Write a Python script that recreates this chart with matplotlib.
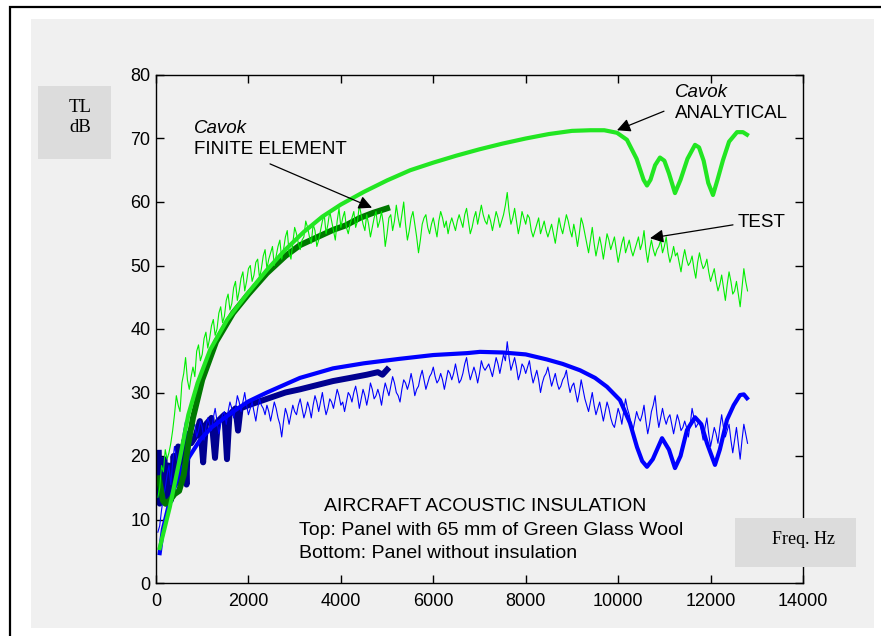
import numpy as np
import matplotlib
matplotlib.use('Agg')
import matplotlib.pyplot as plt
from matplotlib.patches import Rectangle

plt.rcParams['font.family'] = 'Liberation Sans'

# Cavok analytical, insulated panel (top)
ana_top_f = [80, 300, 500, 700, 900, 1170, 1536, 1970, 2400, 2800, 3200, 3600, 4000, 4500,
             5000, 5500, 6000, 6500, 7000, 7500, 8000, 8500, 9000, 9400, 9700, 9975, 10190,
             10400, 10550, 10624, 10700, 10800, 10905, 11000, 11100, 11230, 11350, 11500,
             11663, 11750, 11850, 11950, 12052, 12150, 12269, 12400, 12572, 12700, 12788]
ana_top_v = [5.5, 12.0, 19.0, 26.5, 31.5, 36.7, 41.4, 45.5, 49.3, 52.5, 55.3, 57.7, 59.6, 61.6,
             63.4, 65.0, 66.2, 67.3, 68.3, 69.2, 70.0, 70.7, 71.2, 71.3, 71.3, 70.9, 69.8,
             66.8, 63.5, 62.6, 63.5, 65.8, 67.0, 66.5, 64.5, 61.4, 63.5, 66.8,
             69.0, 68.6, 66.5, 63.0, 61.1, 63.5, 66.6, 69.5, 71.0, 71.0, 70.6]

# Cavok finite element, insulated panel
fe_top_f = [60, 100, 150, 200, 300, 400, 500, 600, 700, 800, 1000, 1300, 1666, 2000, 2400,
            2800, 3115, 3500, 3830, 4100, 4414, 4700, 5000]
fe_top_v = [16.5, 15.0, 13.0, 12.5, 13.0, 14.0, 14.5, 17.0, 22.0, 26.0, 32.0, 38.0, 42.5,
            45.5, 48.8, 51.5, 53.2, 54.5, 55.6, 56.3, 57.5, 58.3, 59.0]

# Cavok analytical, bare panel (bottom)
ana_bot_f = [80, 150, 300, 450, 584, 800, 950, 1200, 1670, 2000, 2400, 3115, 3830, 4500, 5270,
             6000, 6730, 7010, 7500, 8000, 8460, 8800, 9175, 9500, 9758, 10040, 10256, 10408,
             10520, 10624, 10750, 10950, 11100, 11230, 11350, 11490, 11663, 11800, 11923,
             12095, 12200, 12355, 12500, 12637, 12720, 12788]
ana_bot_v = [4.7, 8.5, 13.0, 16.0, 18.3, 20.8, 22.5, 24.5, 27.0, 28.6, 30.0, 32.3, 33.8, 34.6,
             35.3, 35.9, 36.2, 36.4, 36.3, 36.0, 35.2, 34.5, 33.5, 32.3, 30.9, 28.8, 25.2,
             21.4, 19.2, 18.3, 19.5, 22.8, 21.0, 18.1, 20.0, 24.1, 26.1, 25.0, 22.0,
             18.6, 21.0, 25.7, 28.0, 29.6, 29.7, 29.1]

# Cavok finite element, bare panel
fe_bot_f = [60, 80, 110, 140, 180, 220, 270, 320, 380, 430, 480, 520, 560, 620, 660, 690, 760,
            850, 950, 1020, 1080, 1200, 1277, 1340, 1480, 1536, 1590, 1720, 1775, 1830, 2000,
            2400, 2800, 3115, 3500, 3830, 4200, 4560, 4800, 4900, 5000]
fe_bot_v = [20.5, 12.5, 17.0, 14.0, 19.5, 12.5, 18.5, 13.0, 20.0, 16.0, 21.5, 15.5, 20.5,
            22.5, 15.5, 23.5, 22.0, 23.0, 25.5, 19.0, 25.0, 26.0, 19.7, 25.5, 26.5, 19.5,
            26.5, 27.5, 24.0, 27.5, 28.0, 29.0, 30.0, 30.5, 31.2, 31.8, 32.3, 32.8, 33.2,
            32.8, 33.6]

# measured spectra, 40 Hz steps from 40 to 12800 Hz
test_f = np.arange(40, 12801, 40)
test_top = [13.5, 15.0, 18.5, 17.5, 21.0, 19.5, 20.5, 22.0, 24.0, 26.5, 29.5, 28.0, 27.0, 31.5, 33.0, 35.5, 32.0, 30.5, 32.5, 34.0,
            32.5, 36.5, 37.5, 35.0, 36.0, 38.5, 39.5, 37.0, 38.5, 40.5, 41.5, 39.0, 40.0, 42.5, 43.5, 41.0, 42.0, 44.5, 45.5, 43.0,
            44.0, 46.5, 47.5, 44.5, 46.0, 48.0, 49.0, 46.0, 47.5, 49.5, 50.0, 47.5, 48.5, 50.5, 51.0, 48.0, 49.5, 51.5, 52.5, 49.5,
            51.0, 52.0, 53.0, 50.0, 51.5, 53.0, 54.0, 51.0, 52.5, 54.5, 55.5, 52.0, 51.0, 53.5, 56.0, 55.0, 53.5, 52.5, 54.0, 54.5,
            57.0, 56.0, 54.5, 53.5, 56.5, 55.5, 53.0, 54.0, 55.5, 57.0, 58.0, 55.0, 56.5, 58.5, 57.0, 55.5, 54.0, 57.0, 59.0, 56.0,
            57.5, 58.5, 56.0, 55.0, 56.5, 57.5, 58.5, 56.0, 57.0, 59.5, 58.0, 56.5, 55.5, 58.0, 56.5, 54.5, 56.0, 57.5, 58.5, 56.0,
            57.0, 58.5, 56.5, 53.0, 55.0, 57.5, 58.0, 55.5, 57.0, 59.5, 57.5, 56.0, 58.0, 60.0, 56.5, 54.0, 55.5, 57.5, 58.5, 56.5,
            54.5, 52.0, 54.0, 56.5, 57.5, 58.0, 56.0, 55.0, 56.5, 57.5, 56.0, 54.5, 57.0, 58.5, 57.5, 56.0, 57.0, 55.0, 56.5, 57.5,
            56.5, 55.5, 57.0, 58.0, 57.0, 56.0, 58.0, 59.0, 57.0, 55.0, 56.0, 57.5, 58.5, 56.5, 58.0, 59.5, 58.0, 57.0, 56.5, 58.0,
            57.0, 55.5, 57.0, 58.5, 57.5, 56.0, 57.0, 58.0, 59.5, 61.5, 58.5, 56.5, 57.5, 59.0, 57.0, 55.0, 56.5, 58.5, 57.5, 56.5,
            58.0, 57.5, 55.5, 54.5, 55.5, 56.5, 57.5, 55.0, 56.0, 57.0, 55.5, 54.5, 55.5, 56.5, 55.0, 53.5, 55.5, 57.5, 56.0, 55.0,
            56.5, 58.0, 57.0, 55.5, 54.5, 56.5, 55.0, 53.0, 55.0, 57.5, 56.5, 55.0, 53.5, 52.0, 54.0, 56.0, 53.5, 51.5, 53.0, 54.5,
            53.0, 51.0, 53.0, 55.0, 54.0, 52.5, 53.5, 54.5, 52.5, 50.5, 52.0, 53.5, 54.5, 52.0, 53.0, 54.0, 52.5, 51.5, 52.5, 53.5,
            54.5, 52.5, 53.5, 55.5, 52.5, 50.5, 52.5, 54.0, 52.5, 51.5, 52.5, 53.0, 54.0, 52.0, 53.0, 54.5, 52.0, 50.5, 51.5, 53.0,
            51.5, 52.0, 50.5, 49.0, 51.0, 52.5, 51.0, 50.0, 50.5, 51.5, 49.5, 48.0, 50.5, 52.0, 50.5, 49.5, 50.0, 51.0, 49.0, 47.5,
            48.5, 49.5, 47.5, 46.0, 47.0, 48.5, 46.5, 44.5, 47.0, 49.0, 47.5, 45.5, 46.0, 47.5, 45.5, 43.5, 46.5, 49.5, 47.5, 46.0]
test_bot = [8.0, 9.0, 11.5, 13.5, 15.0, 17.0, 18.5, 15.5, 19.0, 21.5, 20.0, 18.5, 20.5, 22.0, 24.0, 25.5, 23.0, 21.0, 22.5, 24.5,
            25.0, 23.0, 24.0, 25.5, 24.5, 22.5, 24.5, 26.0, 25.0, 24.0, 26.0, 27.5, 25.5, 23.5, 25.0, 26.5, 27.0, 25.0, 27.0, 28.5,
            27.5, 26.0, 27.5, 29.5, 28.5, 27.0, 28.5, 30.0, 28.0, 26.5, 27.5, 28.5, 27.0, 25.5, 27.5, 29.0, 28.0, 27.5, 26.5, 28.0,
            27.0, 25.5, 27.0, 28.5, 27.5, 26.0, 25.0, 23.0, 25.5, 27.5, 26.5, 25.0, 26.5, 28.0, 27.0, 26.5, 28.0, 29.0, 27.5, 26.0,
            27.0, 28.5, 27.5, 26.0, 28.0, 29.5, 28.5, 27.0, 28.5, 30.0, 28.0, 26.5, 27.5, 29.0, 28.5, 27.5, 29.0, 30.5, 29.5, 28.0,
            28.5, 27.0, 28.5, 30.0, 29.5, 28.5, 30.0, 31.0, 29.5, 27.5, 29.0, 30.5, 29.5, 28.0, 29.5, 31.5, 30.5, 29.0, 29.5, 30.5,
            29.5, 28.0, 30.0, 31.5, 30.5, 29.5, 31.0, 32.5, 31.5, 30.0, 29.5, 28.5, 30.5, 32.0, 31.5, 30.5, 31.5, 33.0, 31.5, 29.5,
            30.5, 31.0, 32.5, 33.5, 32.0, 30.5, 31.5, 32.5, 33.0, 34.0, 32.5, 31.5, 32.0, 33.0, 32.0, 30.5, 32.0, 33.5, 33.0, 32.0,
            33.0, 34.5, 33.0, 31.5, 32.0, 33.0, 34.5, 35.5, 33.5, 32.0, 33.0, 34.0, 33.0, 31.5, 33.0, 35.0, 34.0, 33.5, 34.0, 34.5,
            33.5, 32.5, 34.0, 35.5, 34.5, 33.0, 34.5, 36.0, 35.0, 38.0, 35.5, 33.5, 34.5, 35.5, 34.0, 32.0, 33.0, 34.5, 34.0, 33.0,
            34.0, 35.0, 33.0, 31.5, 32.5, 33.5, 32.0, 30.0, 31.5, 32.5, 33.0, 34.0, 32.5, 31.0, 32.0, 33.0, 31.5, 30.5, 31.0, 32.0,
            32.5, 33.5, 31.5, 30.0, 31.0, 31.5, 30.0, 28.5, 30.0, 32.0, 30.5, 29.0, 28.0, 27.0, 28.5, 30.0, 28.0, 26.5, 27.5, 28.5,
            27.0, 25.5, 27.0, 28.5, 27.5, 26.0, 25.0, 24.5, 26.0, 27.5, 26.5, 25.0, 27.0, 29.0, 27.5, 26.5, 25.0, 24.0, 25.5, 27.0,
            26.0, 25.5, 26.5, 28.0, 25.5, 23.5, 25.0, 27.0, 28.0, 29.5, 26.5, 24.5, 26.0, 27.5, 26.0, 25.0, 26.0, 26.5, 25.0, 23.5,
            25.0, 26.5, 25.5, 24.0, 24.5, 25.5, 24.5, 23.0, 25.0, 27.5, 26.0, 24.5, 25.0, 25.5, 24.0, 22.5, 24.5, 26.0, 23.5, 21.5,
            23.0, 24.5, 23.5, 22.0, 24.5, 26.5, 24.5, 23.0, 24.0, 25.0, 22.5, 20.5, 22.5, 24.5, 22.0, 19.5, 22.5, 25.0, 23.5, 22.0]

W, H = 881, 636
fig = plt.figure(figsize=(W / 100, H / 100), dpi=100, facecolor='white')

# outer frame and grey panel
fig.patches.append(Rectangle((31 / W, 1 - 628 / H), (874 - 31) / W, (628 - 19) / H,
                             transform=fig.transFigure, fc='#f0f0f0', ec='none', zorder=-2))
fig.patches.append(Rectangle((10 / W, -0.1), 1.2, 1 - 7 / H + 0.1, transform=fig.transFigure,
                             fill=False, ec='black', lw=1.6, zorder=-1))

ax = fig.add_axes([156 / W, 1 - 583 / H, (803 - 156) / W, (583 - 75) / H], zorder=1)
ax.set_facecolor('#f0f0f0')

ax.plot(fe_bot_f, fe_bot_v, color='#000090', lw=4.3, solid_joinstyle='round')
ax.plot(test_f, test_bot, color='#0000ff', lw=0.8)
ax.plot(ana_bot_f, ana_bot_v, color='#0000ff', lw=3.0)
ax.plot(fe_top_f, fe_top_v, color='#007800', lw=4.3, solid_joinstyle='round')
ax.plot(test_f, test_top, color='#00ee00', lw=0.8)
ax.plot(ana_top_f, ana_top_v, color='#22e622', lw=3.0)

ax.set_xlim(0, 14000)
ax.set_ylim(0, 80)
ax.set_xticks(range(0, 14001, 2000))
ax.set_yticks(range(0, 81, 10))
ax.tick_params(direction='in', top=True, right=True, length=6, width=1, labelsize=13, pad=4)
ax.tick_params(axis='x', pad=7)
for s in ax.spines.values():
    s.set_linewidth(1.0)

# axis label boxes
fig.patches.append(Rectangle((38 / W, 1 - 159 / H), 73 / W, 73 / H, transform=fig.transFigure,
                             fc='#dcdcdc', ec='none', zorder=2))
fig.text(80 / W, 1 - 107 / H, 'TL', family='Liberation Serif', fontsize=13.5, ha='center', va='center', zorder=3)
fig.text(80 / W, 1 - 128 / H, 'dB', family='Liberation Serif', fontsize=13.5, ha='center', va='center', zorder=3)
fig.patches.append(Rectangle((735 / W, 1 - 567 / H), 121 / W, 49 / H, transform=fig.transFigure,
                             fc='#dcdcdc', ec='none', zorder=2))
fig.text(803 / W, 1 - 540 / H, 'Freq. Hz', family='Liberation Serif', fontsize=13, ha='center', va='center', zorder=3)

# annotations
fs = 13.5
ax.text(822, 71.65, 'Cavok', style='italic', fontsize=fs, va='center')
ax.text(822, 68.2, 'FINITE ELEMENT', fontsize=fs, va='center')
ax.text(11230, 77.25, 'Cavok', style='italic', fontsize=fs, va='center')
ax.text(11230, 73.9, 'ANALYTICAL', fontsize=fs, va='center')
ax.text(12593, 56.8, 'TEST', fontsize=fs, va='center')

arrow = dict(arrowstyle='-|>', color='black', lw=0.9, mutation_scale=20, shrinkA=0, shrinkB=0)
ax.annotate('', xy=(4674, 59.1), xytext=(2467, 66.0), arrowprops=arrow)
ax.annotate('', xy=(9975, 71.3), xytext=(10992, 74.3), arrowprops=arrow)
ax.annotate('', xy=(10690, 54.3), xytext=(12485, 56.4), arrowprops=arrow)

ax.text(7119, 12.1, 'AIRCRAFT ACOUSTIC INSULATION', fontsize=14, ha='center', va='center')
ax.text(3094, 8.2, 'Top: Panel with 65 mm of Green Glass Wool', fontsize=14, va='center')
ax.text(3094, 4.57, 'Bottom: Panel without insulation', fontsize=14, va='center')

fig.savefig('out.png', dpi=100, facecolor='white')
